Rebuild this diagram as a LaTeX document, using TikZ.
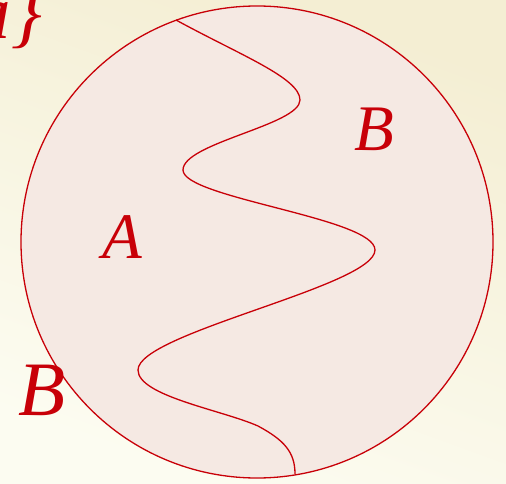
\documentclass[tikz,border=0pt]{standalone}
\usepackage{fontspec}
\newfontfamily\lblfont{Liberation Serif}
\usepackage{tikz}
\usetikzlibrary{positioning, calc}
\definecolor{inkred}{HTML}{C80008}
\definecolor{bgtop}{HTML}{F4EED3}
\definecolor{bgbot}{HTML}{FCFCF1}
\definecolor{settint}{HTML}{F5E9E3}
\tikzset{
  setline/.style={draw=inkred, line width=1.3pt},
  setfill/.style={setline, fill=settint},
  lbl/.style={inner sep=0pt, text=inkred, font=\lblfont\itshape\fontsize{65}{70}\selectfont},
  lblbig/.style={lbl, font=\lblfont\itshape\fontsize{77}{80}\selectfont},
}

\begin{document}
\begin{tikzpicture}[x=1pt, y=-1pt]
  % background
  \useasboundingbox (0,0) rectangle (506,484);
  \shade[top color=bgtop, middle color=bgbot, bottom color=bgbot, shading angle=-20]
    (0,0) rectangle (506,484);
  % the set and the cut through it
  \draw[setfill] (257,242) circle[radius=236pt];
  \coordinate (top) at (176,20);
  \coordinate (bot) at (295,474);
  \draw[setline] (top) .. controls (240,55) and (300,78) .. (300,100)
    .. controls (300,125) and (183,143) .. (183,170)
    .. controls (183,198) and (375,218) .. (375,250)
    .. controls (375,286) and (138,333) .. (138,370)
    .. controls (138,396) and (222,410) .. (258,426)
    .. controls (284,440) and (295,452) .. (bot);
  % labels
  \node[lbl, anchor=base] (lA) at (122,258) {A};
  \node[lbl, anchor=base] (lB) at (374,150) {B};
  \node[lblbig, anchor=base] (lBout) at (42,415) {B};
  \node[lblbig, anchor=base east] (lset) at (42,39) {a\}};
\end{tikzpicture}
\end{document}
